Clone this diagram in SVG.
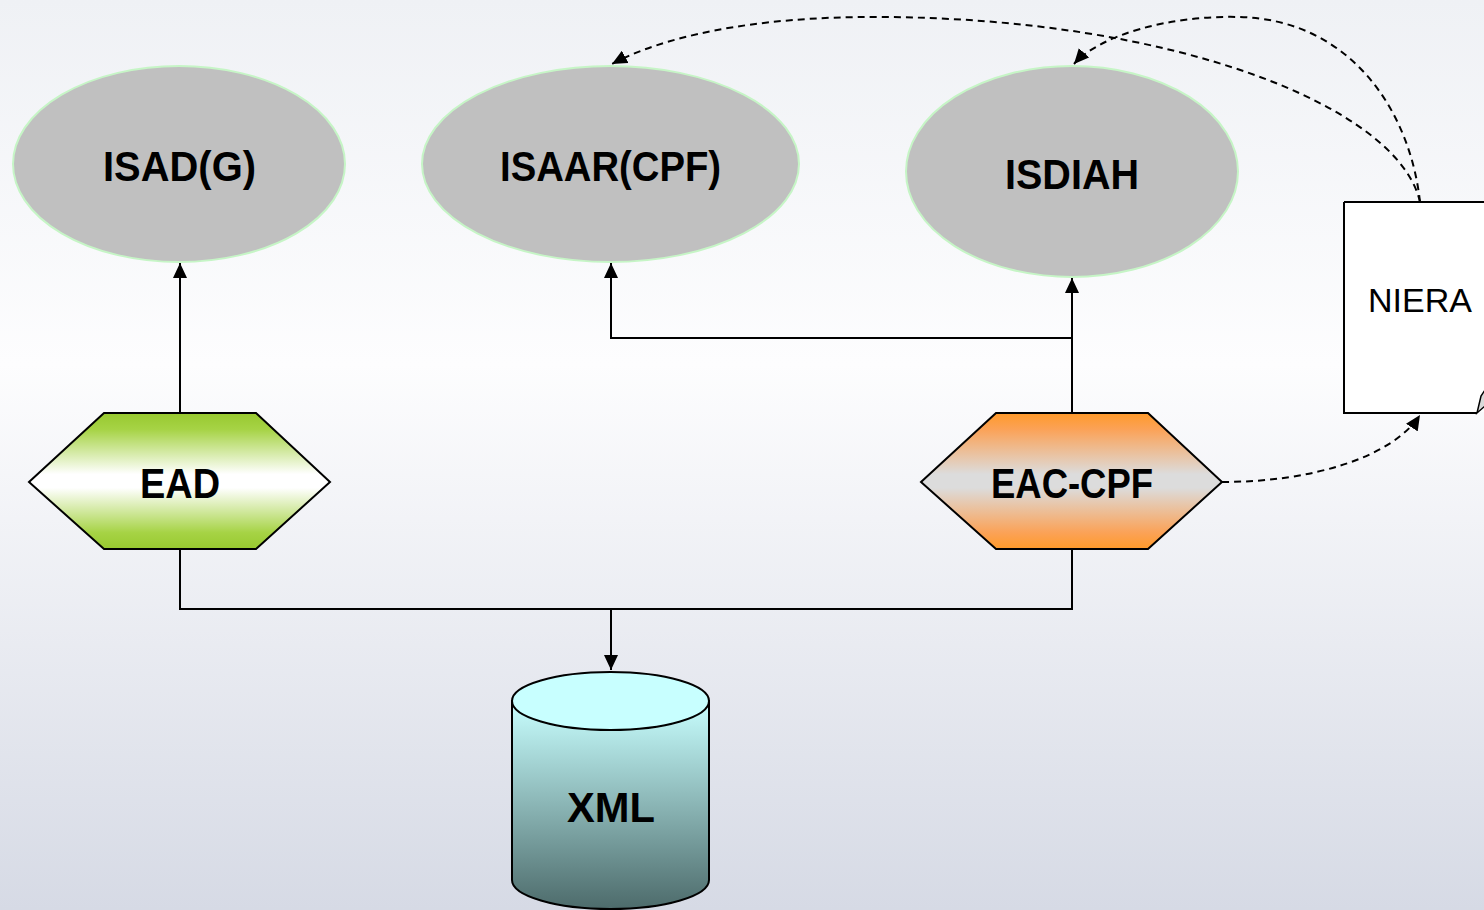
<svg xmlns="http://www.w3.org/2000/svg" width="1484" height="910" viewBox="0 0 1484 910">
  <defs>
    <linearGradient id="bg" x1="0" y1="0" x2="0" y2="1">
      <stop offset="0" stop-color="#eff1f5"/>
      <stop offset="0.4" stop-color="#fdfdfe"/>
      <stop offset="1" stop-color="#d6dae5"/>
    </linearGradient>
    <linearGradient id="gEad" x1="0" y1="0" x2="0" y2="1">
      <stop offset="0" stop-color="#98c92f"/>
      <stop offset="0.12" stop-color="#a6d345"/>
      <stop offset="0.45" stop-color="#ffffff"/>
      <stop offset="0.55" stop-color="#ffffff"/>
      <stop offset="0.88" stop-color="#a6d345"/>
      <stop offset="1" stop-color="#98c92f"/>
    </linearGradient>
    <linearGradient id="gEac" x1="0" y1="0" x2="0" y2="1">
      <stop offset="0" stop-color="#ff9a2a"/>
      <stop offset="0.12" stop-color="#fba257"/>
      <stop offset="0.45" stop-color="#dcdcdc"/>
      <stop offset="0.55" stop-color="#dcdcdc"/>
      <stop offset="0.88" stop-color="#fba257"/>
      <stop offset="1" stop-color="#ff9a2a"/>
    </linearGradient>
    <linearGradient id="gXml" x1="0" y1="0" x2="0" y2="1">
      <stop offset="0" stop-color="#c8ffff"/>
      <stop offset="1" stop-color="#4d6b6b"/>
    </linearGradient>
    <marker id="arr" markerUnits="userSpaceOnUse" markerWidth="16" markerHeight="14" refX="15" refY="7" orient="auto">
      <path d="M0,0 L15,7 L0,14 Z" fill="#000"/>
    </marker>
    <style>
      .std { fill: #c0c0c0; stroke: #c6f5c6; stroke-width: 2; }
      .lbl { font-family: "Liberation Sans", Arial, sans-serif; font-weight: bold; font-size: 42px; fill: #000; text-anchor: middle; }
      .solid { fill: none; stroke: #000; stroke-width: 2; }
      .dash { fill: none; stroke: #000; stroke-width: 2; stroke-dasharray: 7 5; }
      .hex { stroke: #000; stroke-width: 2; }
    </style>
  </defs>

  <rect x="0" y="0" width="1484" height="910" fill="url(#bg)"/>

  <!-- standards -->
  <g id="isadg">
    <ellipse class="std" cx="179" cy="164" rx="166" ry="98"/>
    <text class="lbl" x="179.5" y="181" textLength="153" lengthAdjust="spacingAndGlyphs">ISAD(G)</text>
  </g>
  <g id="isaar">
    <ellipse class="std" cx="610.5" cy="164" rx="188.5" ry="98"/>
    <text class="lbl" x="610.5" y="181" textLength="221" lengthAdjust="spacingAndGlyphs">ISAAR(CPF)</text>
  </g>
  <g id="isdiah">
    <ellipse class="std" cx="1072" cy="171.5" rx="166" ry="105.5"/>
    <text class="lbl" x="1072" y="189" textLength="134" lengthAdjust="spacingAndGlyphs">ISDIAH</text>
  </g>

  <!-- encodings -->
  <g id="ead">
    <polygon class="hex" fill="url(#gEad)" points="29,482 104,413 256,413 330,482 256,549 104,549"/>
    <text class="lbl" x="180" y="498" textLength="80" lengthAdjust="spacingAndGlyphs">EAD</text>
  </g>
  <g id="eac-cpf">
    <polygon class="hex" fill="url(#gEac)" points="921,482 996,413 1148,413 1222,482 1148,549 996,549"/>
    <text class="lbl" x="1072" y="498" textLength="162" lengthAdjust="spacingAndGlyphs">EAC-CPF</text>
  </g>

  <!-- storage -->
  <g id="xml">
    <path d="M512,701 L512,880 A98.5,29 0 0 0 709,880 L709,701 Z" fill="url(#gXml)" stroke="#000" stroke-width="2"/>
    <ellipse cx="610.5" cy="701" rx="98.5" ry="29" fill="#c8ffff" stroke="#000" stroke-width="2"/>
    <text class="lbl" x="611" y="822" textLength="88" lengthAdjust="spacingAndGlyphs">XML</text>
  </g>

  <!-- document with curled corner -->
  <g id="niera">
    <rect x="1345" y="203" width="145" height="209" fill="#fff"/>
    <path d="M1344,202 H1490 M1344,202 V413 H1477" fill="none" stroke="#000" stroke-width="2"/>
    <path d="M1477,413 L1481,396 L1485,390 L1485,406 Z" fill="#d9d9d9" stroke="#000" stroke-width="1.5"/>
    <text x="1420" y="312" font-family="Liberation Sans, Arial, sans-serif" font-size="34" text-anchor="middle" fill="#000">NIERA</text>
  </g>

  <!-- connectors -->
  <g id="connectors">
    <path class="solid" d="M180,413 V263" marker-end="url(#arr)"/>
    <path class="solid" d="M1072,413 V278" marker-end="url(#arr)"/>
    <path class="solid" d="M1072,338 H611 V263" marker-end="url(#arr)"/>
    <path class="solid" d="M180,549 V609 H1072 V549"/>
    <path class="solid" d="M611,609 V670" marker-end="url(#arr)"/>
    <path class="dash" d="M1222,482 C1310,482 1392,458 1420,415" marker-end="url(#arr)"/>
    <path class="dash" d="M1420,202 C1398,105 1170,18 880,17 C750,16 660,38 612,64" marker-end="url(#arr)"/>
    <path class="dash" d="M1420,202 C1410,110 1350,20 1240,17 C1170,15 1100,35 1074,64" marker-end="url(#arr)"/>
  </g>
</svg>
